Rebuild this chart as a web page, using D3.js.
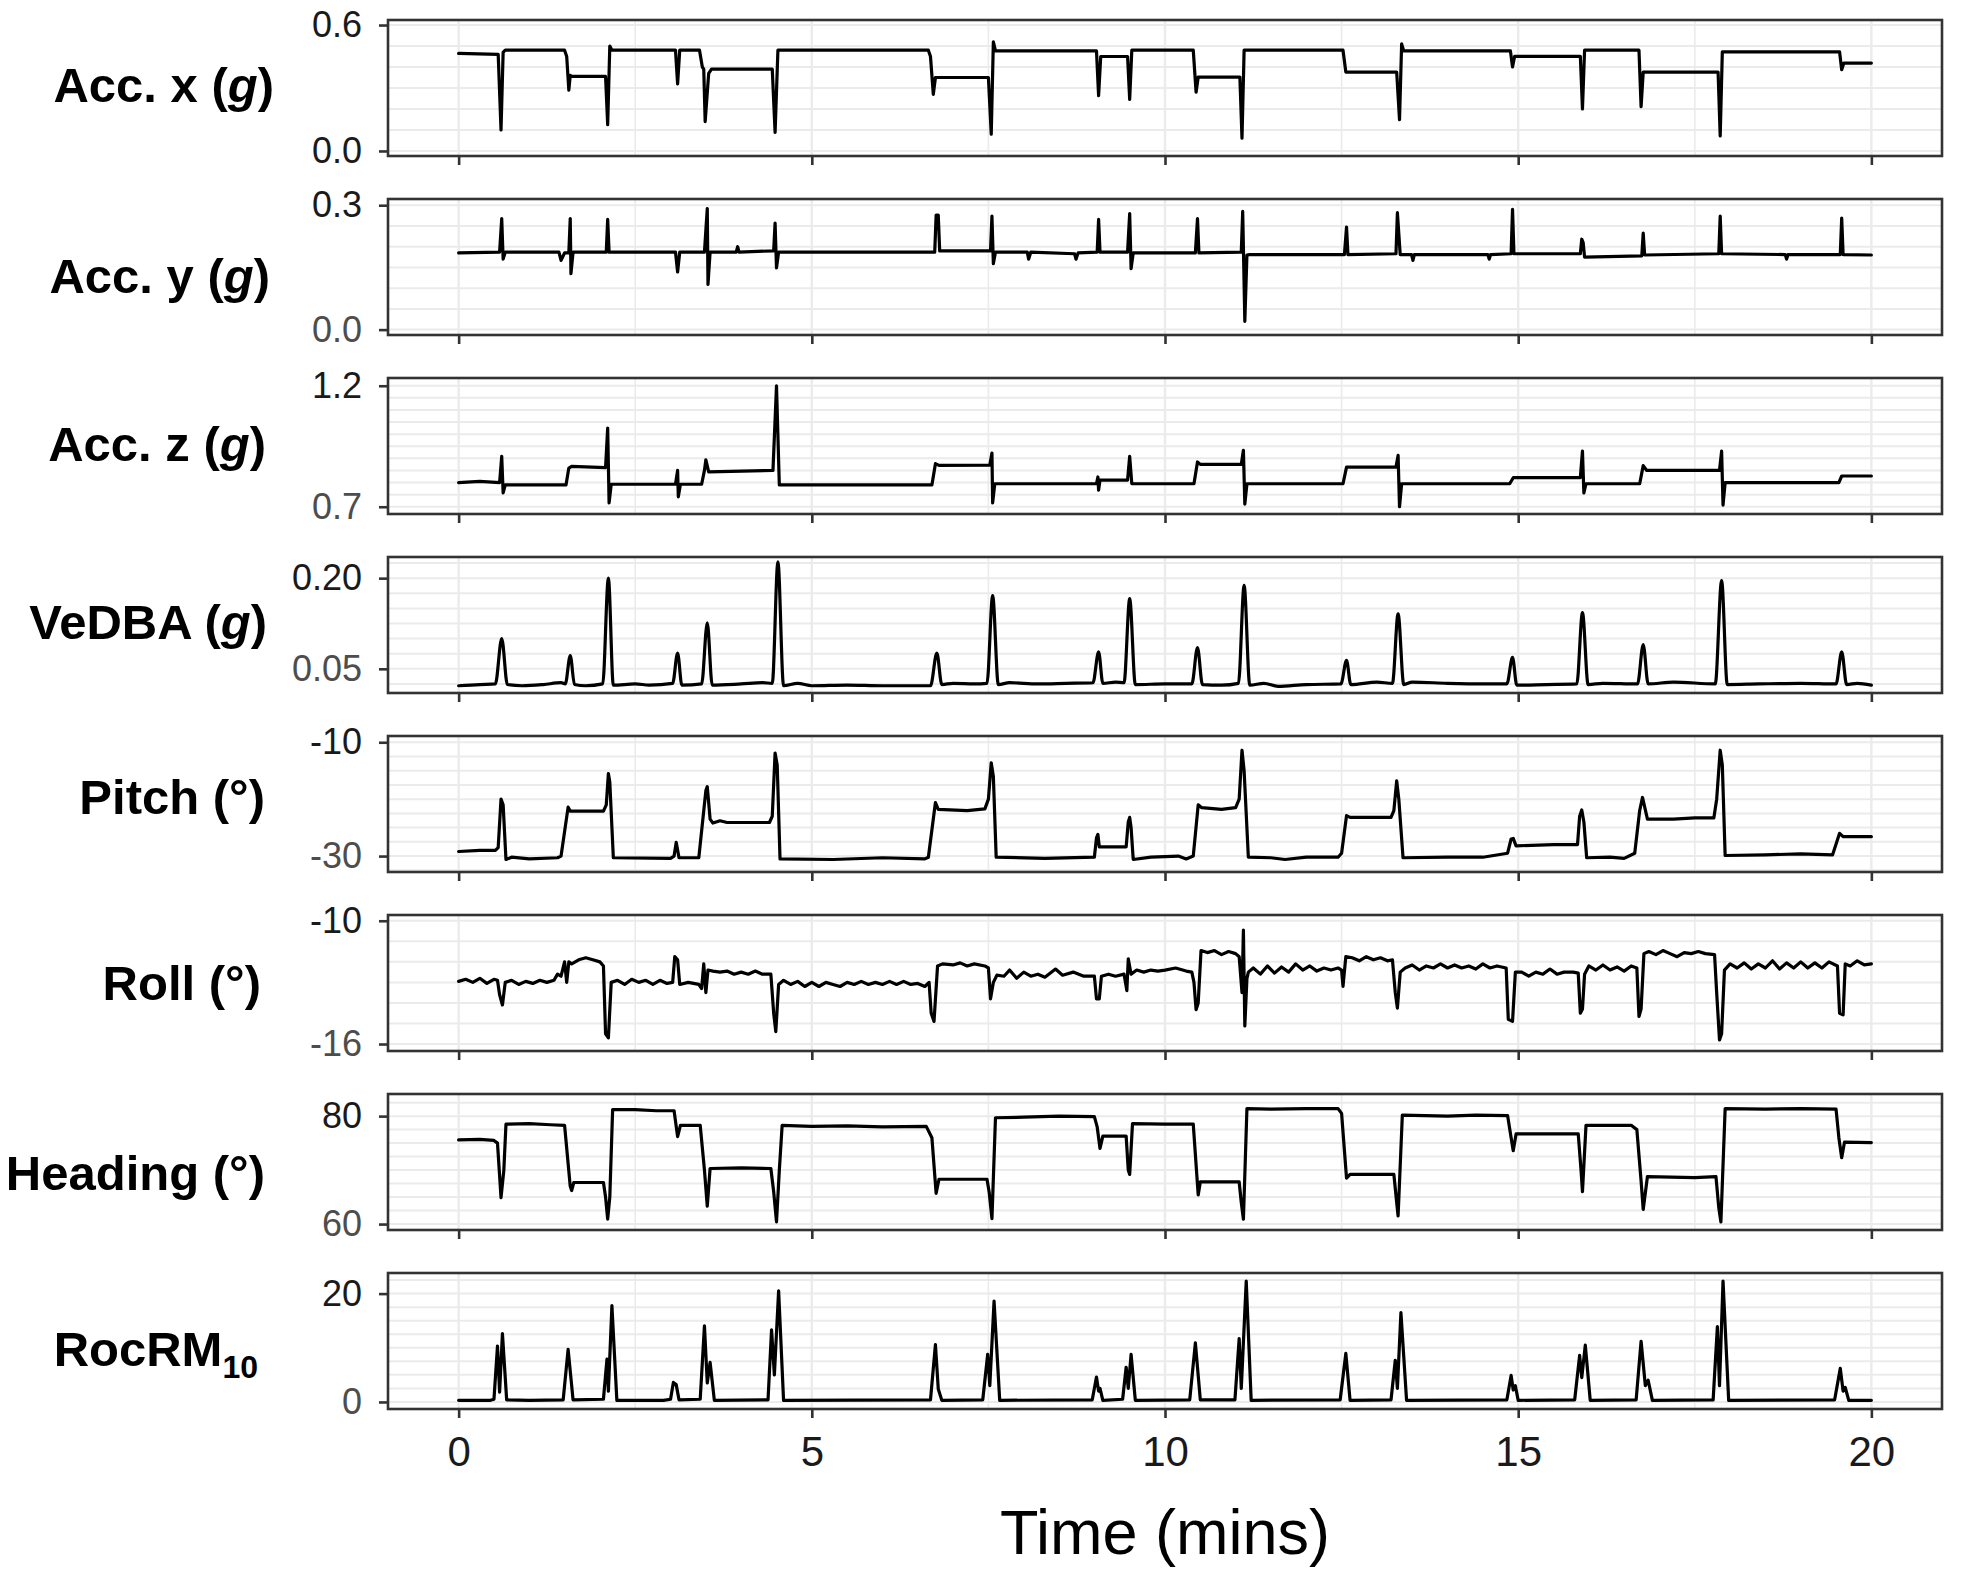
<!DOCTYPE html>
<html><head><meta charset="utf-8">
<script src="https://cdn.jsdelivr.net/npm/d3@7"></script>
<style>body{margin:0;background:#fff}</style>
</head><body>
<svg id="chart" width="1961" height="1574"></svg>
<script>
// ---------------- DATA (time in minutes, value) ----------------
const timeTicks = [0, 5, 10, 15, 20];
const timeTickLabels = ["0", "5", "10", "15", "20"];

const accX = [[0,0.465],[0.56,0.46],[0.60,0.10],[0.63,0.47],[0.66,0.48],[1.50,0.48],[1.53,0.45],[1.56,0.29],[1.58,0.36],[1.6,0.355],[2.08,0.355],[2.11,0.125],[2.14,0.50],[2.17,0.48],[3.07,0.48],[3.10,0.32],[3.13,0.48],[3.41,0.48],[3.45,0.40],[3.47,0.39],[3.49,0.14],[3.54,0.37],[3.58,0.39],[4.44,0.39],[4.48,0.088],[4.52,0.48],[6.65,0.48],[6.68,0.45],[6.72,0.27],[6.75,0.35],[7.50,0.35],[7.54,0.08],[7.57,0.52],[7.60,0.477],[9.03,0.477],[9.06,0.264],[9.09,0.45],[9.47,0.45],[9.50,0.246],[9.53,0.48],[10.40,0.48],[10.44,0.28],[10.47,0.352],[11.06,0.352],[11.09,0.061],[11.12,0.48],[12.52,0.48],[12.56,0.376],[13.28,0.376],[13.32,0.149],[13.35,0.51],[13.38,0.477],[14.89,0.477],[14.92,0.40],[14.95,0.451],[15.88,0.451],[15.91,0.20],[15.94,0.48],[16.71,0.48],[16.74,0.211],[16.77,0.376],[17.83,0.376],[17.86,0.072],[17.89,0.472],[19.55,0.472],[19.58,0.387],[19.61,0.419],[20,0.419]];

const accY = [[0,0.185],[0.58,0.187],[0.61,0.268],[0.63,0.17],[0.66,0.187],[1.42,0.187],[1.45,0.167],[1.5,0.185],[1.56,0.185],[1.58,0.268],[1.59,0.135],[1.62,0.187],[2.09,0.187],[2.11,0.266],[2.13,0.187],[3.07,0.187],[3.10,0.139],[3.13,0.187],[3.48,0.187],[3.50,0.24],[3.52,0.292],[3.53,0.109],[3.56,0.187],[3.93,0.187],[3.95,0.20],[3.97,0.187],[4.46,0.19],[4.48,0.257],[4.50,0.149],[4.53,0.187],[6.74,0.187],[6.76,0.276],[6.79,0.276],[6.81,0.19],[7.53,0.19],[7.55,0.274],[7.57,0.159],[7.60,0.187],[8.05,0.187],[8.07,0.17],[8.10,0.187],[8.72,0.183],[8.74,0.17],[8.77,0.185],[9.04,0.187],[9.06,0.266],[9.08,0.187],[9.47,0.187],[9.50,0.28],[9.52,0.147],[9.55,0.185],[10.43,0.185],[10.46,0.268],[10.48,0.185],[11.08,0.187],[11.10,0.285],[11.13,0.02],[11.16,0.18],[11.2,0.181],[12.54,0.181],[12.57,0.247],[12.59,0.181],[13.27,0.183],[13.29,0.282],[13.33,0.181],[13.49,0.181],[13.51,0.167],[13.53,0.181],[14.57,0.181],[14.59,0.17],[14.61,0.181],[14.90,0.183],[14.92,0.29],[14.94,0.183],[15.88,0.183],[15.90,0.218],[15.92,0.21],[15.94,0.175],[16.75,0.178],[16.77,0.233],[16.79,0.18],[17.84,0.183],[17.86,0.274],[17.88,0.183],[18.78,0.181],[18.80,0.17],[18.82,0.181],[19.56,0.181],[19.58,0.269],[19.60,0.181],[20,0.18]];

const accZ = [[0,0.80],[0.3,0.805],[0.58,0.80],[0.61,0.908],[0.63,0.757],[0.66,0.79],[1.52,0.79],[1.56,0.86],[1.6,0.867],[2.08,0.862],[2.11,1.025],[2.13,0.716],[2.16,0.793],[3.07,0.793],[3.10,0.85],[3.11,0.741],[3.14,0.793],[3.44,0.793],[3.48,0.85],[3.50,0.894],[3.54,0.844],[4.45,0.85],[4.50,1.20],[4.54,0.79],[6.70,0.79],[6.75,0.878],[6.80,0.871],[7.52,0.872],[7.55,0.922],[7.56,0.716],[7.59,0.795],[9.03,0.795],[9.05,0.823],[9.06,0.769],[9.08,0.81],[9.47,0.81],[9.50,0.908],[9.53,0.795],[10.41,0.795],[10.46,0.885],[10.50,0.875],[11.08,0.875],[11.11,0.933],[11.13,0.711],[11.16,0.795],[12.52,0.795],[12.57,0.864],[13.27,0.864],[13.30,0.912],[13.32,0.70],[13.35,0.795],[14.88,0.795],[14.93,0.82],[15.88,0.82],[15.91,0.93],[15.93,0.757],[15.96,0.795],[16.72,0.795],[16.77,0.87],[16.82,0.85],[17.85,0.85],[17.88,0.93],[17.90,0.707],[17.93,0.80],[19.54,0.80],[19.58,0.827],[20,0.827]];

const vedba = [[0,0.022],[0.3,0.024],[0.52,0.025],[0.61,0.100],[0.69,0.024],[0.9,0.022],[1.2,0.024],[1.45,0.027],[1.51,0.025],[1.58,0.072],[1.64,0.024],[1.8,0.022],[2.04,0.025],[2.12,0.200],[2.19,0.023],[2.5,0.025],[2.7,0.023],[3.03,0.026],[3.10,0.076],[3.16,0.023],[3.44,0.025],[3.52,0.126],[3.59,0.023],[4.0,0.025],[4.3,0.027],[4.44,0.026],[4.52,0.227],[4.60,0.022],[4.8,0.026],[5.0,0.022],[5.5,0.023],[6.0,0.022],[6.68,0.022],[6.77,0.076],[6.84,0.024],[7.0,0.026],[7.3,0.025],[7.48,0.026],[7.56,0.171],[7.64,0.024],[7.8,0.027],[8.2,0.025],[8.6,0.026],[8.98,0.027],[9.06,0.078],[9.12,0.026],[9.3,0.028],[9.42,0.027],[9.50,0.166],[9.58,0.024],[10.0,0.025],[10.38,0.025],[10.46,0.085],[10.53,0.024],[10.8,0.023],[11.04,0.026],[11.12,0.188],[11.20,0.023],[11.4,0.026],[11.6,0.021],[12.0,0.024],[12.49,0.025],[12.57,0.064],[12.63,0.024],[13.0,0.028],[13.22,0.026],[13.30,0.141],[13.38,0.024],[13.5,0.028],[14.0,0.026],[14.5,0.025],[14.84,0.025],[14.92,0.069],[14.98,0.023],[15.4,0.024],[15.83,0.025],[15.91,0.143],[15.99,0.024],[16.2,0.026],[16.69,0.025],[16.77,0.090],[16.84,0.025],[17.2,0.028],[17.79,0.025],[17.88,0.196],[17.96,0.024],[18.4,0.025],[19.0,0.026],[19.5,0.025],[19.58,0.078],[19.65,0.024],[19.8,0.026],[20,0.023]];

const pitch = [[0,-29.2],[0.3,-29.0],[0.52,-29.0],[0.56,-28.5],[0.60,-20.0],[0.63,-21.0],[0.67,-30.6],[0.75,-30.2],[1.0,-30.5],[1.4,-30.3],[1.45,-30.0],[1.55,-21.4],[1.58,-22.1],[2.05,-22.1],[2.09,-21.0],[2.12,-15.5],[2.14,-17.0],[2.19,-30.3],[3.0,-30.4],[3.05,-30.0],[3.08,-27.6],[3.12,-30.3],[3.40,-30.3],[3.50,-18.5],[3.52,-17.8],[3.56,-23.5],[3.6,-24.2],[3.7,-23.8],[3.8,-24.1],[4.40,-24.1],[4.44,-23.0],[4.48,-11.9],[4.51,-14.0],[4.55,-30.5],[5.3,-30.6],[6.0,-30.3],[6.60,-30.5],[6.65,-30.2],[6.75,-20.6],[6.79,-21.8],[7.2,-22.0],[7.45,-21.7],[7.50,-20.0],[7.54,-13.6],[7.57,-16.0],[7.61,-30.2],[8.3,-30.4],[9.0,-30.2],[9.03,-26.8],[9.05,-26.2],[9.07,-28.4],[9.45,-28.4],[9.48,-24.0],[9.50,-23.2],[9.52,-25.0],[9.55,-30.6],[9.8,-30.2],[10.19,-30.0],[10.3,-30.5],[10.40,-30.0],[10.47,-21.0],[10.52,-21.5],[10.8,-21.8],[11.0,-21.5],[11.05,-20.0],[11.09,-11.4],[11.12,-15.0],[11.18,-30.2],[11.5,-30.3],[11.7,-30.6],[12.0,-30.2],[12.45,-30.2],[12.50,-29.5],[12.57,-22.9],[12.62,-23.2],[13.20,-23.2],[13.24,-22.0],[13.28,-16.8],[13.31,-20.0],[13.37,-30.3],[14.0,-30.2],[14.5,-30.2],[14.85,-29.5],[14.90,-27.0],[14.93,-26.9],[14.97,-28.2],[15.5,-28.0],[15.84,-28.0],[15.87,-23.0],[15.90,-21.9],[15.93,-24.0],[15.97,-30.3],[16.3,-30.2],[16.5,-30.4],[16.65,-29.5],[16.72,-22.0],[16.76,-19.7],[16.83,-23.5],[17.2,-23.5],[17.5,-23.3],[17.77,-23.3],[17.81,-20.0],[17.86,-11.4],[17.89,-14.0],[17.93,-29.9],[18.5,-29.8],[19.0,-29.6],[19.45,-29.8],[19.55,-26.0],[19.60,-26.6],[20,-26.6]];

const roll = [[0,-12.95],[0.1,-12.85],[0.2,-13.0],[0.3,-12.8],[0.4,-13.05],[0.5,-12.85],[0.55,-12.9],[0.58,-13.6],[0.62,-14.1],[0.66,-13.0],[0.75,-12.9],[0.85,-13.1],[0.95,-12.95],[1.05,-13.05],[1.15,-12.9],[1.25,-13.0],[1.35,-12.9],[1.40,-12.6],[1.45,-12.7],[1.50,-12.0],[1.53,-13.0],[1.56,-12.0],[1.6,-12.1],[1.7,-11.9],[1.8,-11.8],[1.9,-11.9],[2.0,-12.0],[2.05,-12.2],[2.08,-15.5],[2.12,-15.7],[2.16,-13.0],[2.25,-12.9],[2.35,-13.1],[2.45,-12.85],[2.55,-13.0],[2.65,-12.9],[2.75,-13.1],[2.85,-12.9],[2.95,-13.05],[3.03,-13.0],[3.06,-11.75],[3.10,-11.9],[3.13,-13.1],[3.25,-13.0],[3.40,-13.1],[3.44,-13.3],[3.47,-12.1],[3.50,-13.5],[3.53,-12.4],[3.6,-12.45],[3.7,-12.5],[3.8,-12.45],[3.9,-12.6],[4.0,-12.5],[4.1,-12.6],[4.2,-12.45],[4.3,-12.6],[4.42,-12.6],[4.46,-14.5],[4.49,-15.4],[4.53,-13.1],[4.6,-12.9],[4.7,-13.1],[4.8,-12.95],[4.9,-13.2],[5.0,-13.0],[5.1,-13.2],[5.2,-13.0],[5.3,-13.1],[5.4,-13.2],[5.5,-13.0],[5.6,-13.1],[5.7,-12.95],[5.8,-13.1],[5.9,-13.0],[6.0,-13.1],[6.1,-12.95],[6.2,-13.1],[6.3,-12.95],[6.4,-13.1],[6.5,-13.05],[6.6,-13.2],[6.66,-13.0],[6.69,-14.5],[6.73,-14.9],[6.78,-12.2],[6.85,-12.1],[7.0,-12.15],[7.1,-12.05],[7.2,-12.2],[7.3,-12.1],[7.45,-12.2],[7.50,-12.3],[7.53,-13.8],[7.57,-13.0],[7.62,-12.65],[7.72,-12.7],[7.8,-12.4],[7.9,-12.8],[8.0,-12.5],[8.1,-12.7],[8.2,-12.6],[8.3,-12.75],[8.45,-12.35],[8.55,-12.65],[8.7,-12.5],[8.85,-12.7],[9.0,-12.7],[9.03,-13.8],[9.07,-13.8],[9.10,-12.7],[9.2,-12.6],[9.3,-12.7],[9.42,-12.6],[9.46,-13.4],[9.48,-11.85],[9.52,-12.6],[9.6,-12.4],[9.7,-12.5],[9.8,-12.4],[9.9,-12.45],[10.0,-12.4],[10.15,-12.3],[10.3,-12.45],[10.38,-12.5],[10.41,-13.0],[10.44,-14.33],[10.47,-14.0],[10.51,-11.45],[10.6,-11.55],[10.7,-11.45],[10.8,-11.65],[10.9,-11.5],[11.0,-11.6],[11.05,-11.75],[11.09,-13.5],[11.11,-10.46],[11.13,-15.12],[11.16,-12.8],[11.18,-12.5],[11.25,-12.3],[11.35,-12.6],[11.45,-12.2],[11.55,-12.55],[11.65,-12.25],[11.75,-12.5],[11.85,-12.1],[11.95,-12.4],[12.05,-12.2],[12.15,-12.45],[12.25,-12.3],[12.35,-12.4],[12.45,-12.3],[12.50,-12.4],[12.52,-13.19],[12.56,-11.75],[12.65,-11.8],[12.75,-11.95],[12.85,-11.75],[12.95,-11.9],[13.05,-11.8],[13.15,-11.95],[13.22,-11.9],[13.26,-13.5],[13.29,-14.25],[13.33,-12.5],[13.4,-12.3],[13.5,-12.15],[13.6,-12.4],[13.7,-12.2],[13.8,-12.3],[13.9,-12.1],[14.0,-12.3],[14.1,-12.15],[14.2,-12.3],[14.3,-12.2],[14.4,-12.35],[14.5,-12.1],[14.6,-12.3],[14.7,-12.2],[14.83,-12.3],[14.86,-14.8],[14.92,-14.9],[14.96,-12.5],[15.05,-12.5],[15.15,-12.7],[15.25,-12.5],[15.35,-12.6],[15.45,-12.35],[15.55,-12.6],[15.65,-12.5],[15.78,-12.5],[15.85,-12.55],[15.88,-14.5],[15.91,-14.3],[15.94,-12.6],[16.0,-12.2],[16.1,-12.4],[16.2,-12.15],[16.3,-12.4],[16.4,-12.25],[16.5,-12.45],[16.6,-12.2],[16.68,-12.3],[16.71,-14.66],[16.74,-14.3],[16.78,-11.6],[16.85,-11.5],[16.95,-11.65],[17.05,-11.45],[17.15,-11.6],[17.25,-11.75],[17.35,-11.55],[17.45,-11.6],[17.55,-11.5],[17.65,-11.6],[17.78,-11.65],[17.81,-13.5],[17.85,-15.8],[17.88,-15.5],[17.92,-12.4],[18.0,-12.1],[18.1,-12.3],[18.2,-12.05],[18.3,-12.35],[18.4,-12.1],[18.5,-12.3],[18.6,-11.95],[18.7,-12.35],[18.8,-12.05],[18.9,-12.3],[19.0,-12.0],[19.1,-12.3],[19.2,-12.05],[19.3,-12.3],[19.4,-12.0],[19.52,-12.2],[19.55,-14.5],[19.60,-14.58],[19.63,-12.1],[19.7,-12.2],[19.8,-11.95],[19.9,-12.15],[20,-12.1]];

const heading = [[0,75.6],[0.3,75.7],[0.5,75.5],[0.55,75.0],[0.60,64.9],[0.64,70.0],[0.67,78.5],[1.0,78.6],[1.3,78.4],[1.50,78.3],[1.58,67.0],[1.60,66.2],[1.63,67.7],[2.05,67.7],[2.08,65.0],[2.11,60.9],[2.14,65.0],[2.18,81.2],[2.5,81.2],[2.8,81.0],[3.05,81.0],[3.10,76.2],[3.14,78.3],[3.42,78.3],[3.48,70.0],[3.52,63.3],[3.56,70.3],[4.0,70.4],[4.42,70.3],[4.46,66.0],[4.50,60.4],[4.54,70.0],[4.58,78.3],[5.0,78.1],[5.5,78.2],[6.0,78.0],[6.62,78.1],[6.70,76.0],[6.76,65.7],[6.80,68.3],[7.48,68.3],[7.51,66.0],[7.55,61.0],[7.60,79.7],[8.0,79.8],[8.5,80.0],[9.0,79.9],[9.04,78.0],[9.08,74.0],[9.12,76.3],[9.45,76.3],[9.48,70.0],[9.50,69.2],[9.54,78.6],[10.0,78.5],[10.40,78.5],[10.47,65.4],[10.50,67.8],[11.05,67.8],[11.08,64.0],[11.11,60.9],[11.16,81.4],[11.5,81.3],[12.0,81.4],[12.45,81.4],[12.50,80.5],[12.57,68.5],[12.62,69.2],[13.24,69.2],[13.28,64.0],[13.30,61.5],[13.36,80.2],[14.0,80.0],[14.4,80.2],[14.85,80.1],[14.90,76.0],[14.93,73.6],[14.97,76.7],[15.85,76.7],[15.89,70.0],[15.91,66.0],[15.96,78.3],[16.6,78.3],[16.68,77.5],[16.74,68.0],[16.77,62.7],[16.83,68.8],[17.5,68.6],[17.80,68.8],[17.84,63.0],[17.87,60.4],[17.93,81.4],[18.5,81.3],[19.0,81.4],[19.50,81.3],[19.54,76.0],[19.58,72.3],[19.62,75.2],[20,75.1]];

const rocRM10 = [[0,0.3],[0.45,0.3],[0.50,0.5],[0.55,10.3],[0.58,1.8],[0.62,12.6],[0.68,0.4],[1.0,0.3],[1.48,0.4],[1.55,9.7],[1.62,0.4],[2.05,0.5],[2.10,7.9],[2.12,2.0],[2.17,17.8],[2.24,0.3],[2.9,0.3],[3.0,0.5],[3.04,3.6],[3.08,3.2],[3.12,0.4],[3.42,0.5],[3.48,14.05],[3.52,3.5],[3.56,7.3],[3.62,0.3],[4.38,0.4],[4.43,13.3],[4.47,5.0],[4.53,20.5],[4.60,0.3],[6.68,0.4],[6.75,10.6],[6.79,2.4],[6.84,0.3],[7.42,0.4],[7.49,8.8],[7.52,3.0],[7.58,18.6],[7.66,0.3],[8.97,0.4],[9.03,4.6],[9.06,2.0],[9.08,2.5],[9.12,0.3],[9.40,0.5],[9.45,6.4],[9.48,2.5],[9.52,8.8],[9.58,0.3],[10.35,0.4],[10.43,10.9],[10.50,0.4],[10.99,0.4],[11.05,11.7],[11.08,2.5],[11.15,22.3],[11.22,0.3],[12.48,0.4],[12.56,8.95],[12.62,0.3],[13.20,0.4],[13.26,7.7],[13.29,2.5],[13.34,16.5],[13.42,0.3],[14.84,0.4],[14.90,4.9],[14.93,2.2],[14.96,3.0],[15.00,0.3],[15.80,0.4],[15.87,8.6],[15.90,4.5],[15.95,10.5],[16.02,0.3],[16.67,0.4],[16.74,11.2],[16.80,3.0],[16.84,4.0],[16.90,0.3],[17.76,0.4],[17.82,13.9],[17.85,3.0],[17.90,22.3],[17.98,0.3],[19.48,0.4],[19.56,6.2],[19.60,2.0],[19.63,2.7],[19.68,0.3],[20,0.3]];

// y-axis tick values and their labels (bottom, top)
const accXTicks = [0, 0.6],     accXLabels = ["0.0", "0.6"];
const accYTicks = [0, 0.3],     accYLabels = ["0.0", "0.3"];
const accZTicks = [0.7, 1.2],   accZLabels = ["0.7", "1.2"];
const vedbaTicks = [0.05, 0.20], vedbaLabels = ["0.05", "0.20"];
const pitchTicks = [-30, -10],  pitchLabels = ["-30", "-10"];
const rollTicks = [-16, -10],   rollLabels = ["-16", "-10"];
const headingTicks = [60, 80],  headingLabels = ["60", "80"];
const rocTicks = [0, 20],       rocLabels = ["0", "20"];

// ---------------- PANEL CONFIG ----------------
const panels = [
  {data: accX, ticks: accXTicks, labels: accXLabels, domain: [-0.024, 0.624], grid: [0,0.6,0.1], title: [["Acc. x (",0],["g",1],[")",0]], tx: 274, dy: -4, lowCol: "#1a1a1a"},
  {data: accY, ticks: accYTicks, labels: accYLabels, domain: [-0.013, 0.315], grid: [0,0.3,0.05], title: [["Acc. y (",0],["g",1],[")",0]], tx: 270, dy: 8},
  {data: accZ, ticks: accZTicks, labels: accZLabels, domain: [0.67, 1.232], grid: [0.7,1.2,0.05], title: [["Acc. z (",0],["g",1],[")",0]], tx: 266, dy: -3},
  {data: vedba, ticks: vedbaTicks, labels: vedbaLabels, domain: [0.010, 0.235], grid: [0.025,0.225,0.025], title: [["VeDBA (",0],["g",1],[")",0]], tx: 267, dy: -4, smooth: true},
  {data: pitch, ticks: pitchTicks, labels: pitchLabels, domain: [-32.8, -8.9], grid: [-32.5,-10,2.5], title: [["Pitch (°)",0]], tx: 265, dy: -8},
  {data: roll, ticks: rollTicks, labels: rollLabels, domain: [-16.34, -9.72], grid: [-16,-10,1], title: [["Roll (°)",0]], tx: 261, dy: -1},
  {data: heading, ticks: headingTicks, labels: headingLabels, domain: [58.9, 84.1], grid: [60,82.5,2.5], title: [["Heading (°)",0]], tx: 265, dy: 10},
  {data: rocRM10, ticks: rocTicks, labels: rocLabels, domain: [-1.3, 23.8], grid: [0,22.5,2.5], title: [["RocRM",0],["10",2]], tx: 258, dy: 7}
];

// ---------------- DRAW ----------------
const svg = d3.select("#chart");
svg.append("rect").attr("width", 1961).attr("height", 1574).attr("fill", "#fff");
const FONT = "'Liberation Sans', Arial, Helvetica, sans-serif";
const left = 388, right = 1942, top0 = 20, step = 179, ph = 136;
const x = d3.scaleLinear().domain([-1, 21]).range([left, right]);
const vGrid = d3.range(0, 20.01, 2.5);

panels.forEach((p, i) => {
  const top = top0 + i * step, bottom = top + ph;
  const y = d3.scaleLinear().domain(p.domain).range([bottom, top]);
  const g = svg.append("g");

  g.append("rect").attr("x", left).attr("y", top).attr("width", right - left).attr("height", ph).attr("fill", "#fff");

  const hGrid = d3.range(p.grid[0], p.grid[1] + p.grid[2] * 0.01, p.grid[2]);
  g.selectAll(".hg").data(hGrid).join("line")
    .attr("x1", left).attr("x2", right)
    .attr("y1", d => y(d)).attr("y2", d => y(d))
    .attr("stroke", "#ebebeb").attr("stroke-width", 2);
  g.selectAll(".vg").data(vGrid).join("line")
    .attr("y1", top).attr("y2", bottom)
    .attr("x1", d => x(d)).attr("x2", d => x(d))
    .attr("stroke", "#ebebeb").attr("stroke-width", d => (d % 5 === 0 ? 2.4 : 1.6));

  const clipId = "clip" + i;
  svg.append("clipPath").attr("id", clipId).append("rect")
    .attr("x", left).attr("y", top).attr("width", right - left).attr("height", ph);

  const line = d3.line().x(d => x(d[0])).y(d => y(d[1]))
    .curve(p.smooth ? d3.curveMonotoneX : d3.curveLinear);
  g.append("path").datum(p.data).attr("d", line)
    .attr("clip-path", `url(#${clipId})`)
    .attr("fill", "none").attr("stroke", "#000").attr("stroke-width", 3.2)
    .attr("stroke-linejoin", "round").attr("stroke-linecap", "round");

  g.append("rect").attr("x", left).attr("y", top).attr("width", right - left).attr("height", ph)
    .attr("fill", "none").attr("stroke", "#333").attr("stroke-width", 2.6);

  // y axis
  const ya = g.append("g").attr("transform", `translate(${left},0)`)
    .call(d3.axisLeft(y).tickValues(p.ticks).tickFormat((d, j) => p.labels[j]).tickSize(9).tickPadding(17));
  ya.select(".domain").remove();
  ya.selectAll(".tick line").attr("stroke", "#333").attr("stroke-width", 2.6);
  ya.selectAll(".tick text").attr("font-family", FONT).attr("font-size", 36)
    .attr("fill", (d, j) => j === 0 ? (p.lowCol || "#4d4d4d") : "#1a1a1a");

  // x axis
  const last = i === panels.length - 1;
  const xa = g.append("g").attr("transform", `translate(0,${bottom})`)
    .call(d3.axisBottom(x).tickValues(timeTicks).tickSize(9).tickPadding(18)
      .tickFormat((d, j) => last ? timeTickLabels[j] : ""));
  xa.select(".domain").remove();
  xa.selectAll(".tick line").attr("stroke", "#333").attr("stroke-width", 2.6);
  xa.selectAll(".tick text").attr("font-family", FONT).attr("font-size", 42).attr("fill", "#1a1a1a");

  // y title
  const t = svg.append("text").attr("x", p.tx).attr("y", top + ph / 2 + p.dy)
    .attr("dy", "0.36em").attr("text-anchor", "end")
    .attr("font-family", FONT).attr("font-weight", "bold").attr("font-size", 49).attr("fill", "#000");
  p.title.forEach(([s, k]) => {
    const ts = t.append("tspan").text(s);
    if (k === 1) ts.attr("font-style", "italic");
    if (k === 2) ts.attr("font-size", 32).attr("dy", 12);
  });
});

svg.append("text").attr("x", x(10)).attr("y", 1554).attr("text-anchor", "middle")
  .attr("font-family", FONT).attr("font-size", 63).attr("fill", "#000").text("Time (mins)");
</script>
</body></html>
